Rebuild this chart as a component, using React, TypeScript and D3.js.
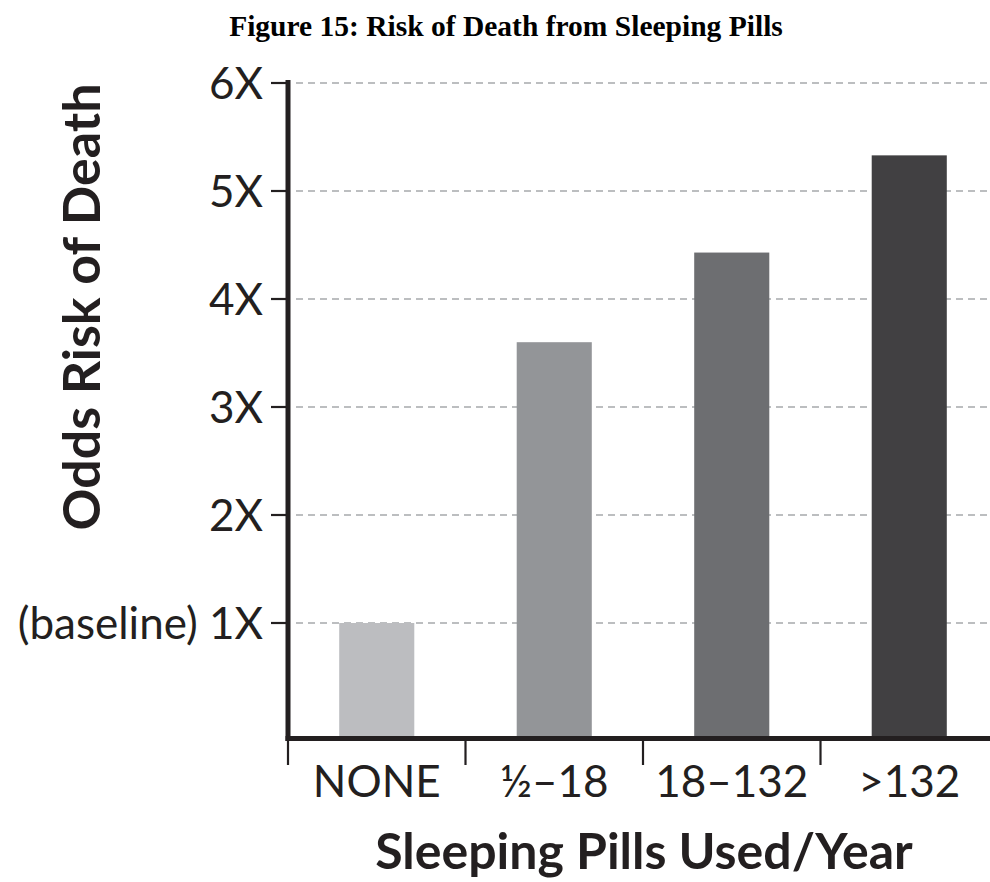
import React from "react";
import * as d3 from "d3";

const title = "Figure 15: Risk of Death from Sleeping Pills";
const categories = ["NONE", "½–18", "18–132", ">132"];
const values = [1.0, 3.6, 4.43, 5.33];
const barColors = ["#bcbdc0", "#939598", "#6d6e71", "#414042"];
const yTicks = [1, 2, 3, 4, 5, 6];
const yTickLabels = ["(baseline) 1X", "2X", "3X", "4X", "5X", "6X"];
const xTitle = "Sleeping Pills Used/Year";
const yTitle = "Odds Risk of Death";

const W = 990;
const H = 882;
const FONT = "Lato, 'Open Sans', sans-serif";

export default function App() {
  const y = d3.scaleLinear().domain([0, 6]).range([731, 83]);
  const x = d3
    .scaleBand<string>()
    .domain(categories)
    .range([288, 998])
    .paddingInner(0.577)
    .paddingOuter(0.2885);
  const axisX = 288;
  const axisY = 738.5;
  const step = x.step();
  const boundaries = d3.range(categories.length).map((i) => 288 + i * step);

  return (
    <svg
      width={W}
      height={H}
      style={{ position: "absolute", left: 0, top: 0, background: "#fff" }}
    >
      <text
        x={W / 2 + 11}
        y={36}
        textAnchor="middle"
        fontFamily="'Liberation Serif', 'Times New Roman', serif"
        fontWeight="bold"
        fontSize={29.5}
        fill="#000"
      >
        {title}
      </text>

      {/* gridlines */}
      {yTicks.map((t) => (
        <line
          key={"g" + t}
          x1={axisX + 8}
          x2={W}
          y1={y(t)}
          y2={y(t)}
          stroke="#a7a9ac"
          strokeWidth={1.5}
          strokeDasharray="7,5"
        />
      ))}

      {/* bars */}
      {categories.map((c, i) => (
        <rect
          key={c}
          x={x(c)}
          width={x.bandwidth()}
          y={y(values[i])}
          height={axisY - y(values[i])}
          fill={barColors[i]}
        />
      ))}

      {/* y axis ticks */}
      {yTicks.map((t, i) => (
        <g key={"t" + t}>
          <line x1={271} x2={axisX} y1={y(t)} y2={y(t)} stroke="#231f20" strokeWidth={2.2} />
          <text
            x={263}
            y={y(t)}
            dy="0.36em"
            textAnchor="end"
            fontFamily={FONT}
            fontSize={44}
            fill="#231f20"
          >
            {yTickLabels[i]}
          </text>
        </g>
      ))}

      {/* x boundary ticks */}
      {boundaries.map((b, i) => (
        <line
          key={"b" + i}
          x1={b}
          x2={b}
          y1={axisY}
          y2={765}
          stroke="#231f20"
          strokeWidth={2.2}
        />
      ))}

      {/* axis lines */}
      <line x1={axisX} x2={axisX} y1={80} y2={axisY + 2.5} stroke="#231f20" strokeWidth={5} />
      <line x1={axisX - 2.5} x2={W} y1={axisY} y2={axisY} stroke="#231f20" strokeWidth={5} />

      {/* category labels */}
      {categories.map((c) => (
        <text
          key={"l" + c}
          x={(x(c) as number) + x.bandwidth() / 2}
          y={797}
          textAnchor="middle"
          fontFamily={FONT}
          fontSize={44}
          fill="#231f20"
        >
          {c}
        </text>
      ))}

      <text
        x={644}
        y={869}
        textAnchor="middle"
        fontFamily={FONT}
        fontWeight="bold"
        fontSize={50}
        fill="#231f20"
      >
        {xTitle}
      </text>

      <text
        transform={`translate(100, 307) rotate(-90)`}
        textAnchor="middle"
        fontFamily={FONT}
        fontWeight="bold"
        fontSize={52}
        fill="#231f20"
      >
        {yTitle}
      </text>
    </svg>
  );
}
